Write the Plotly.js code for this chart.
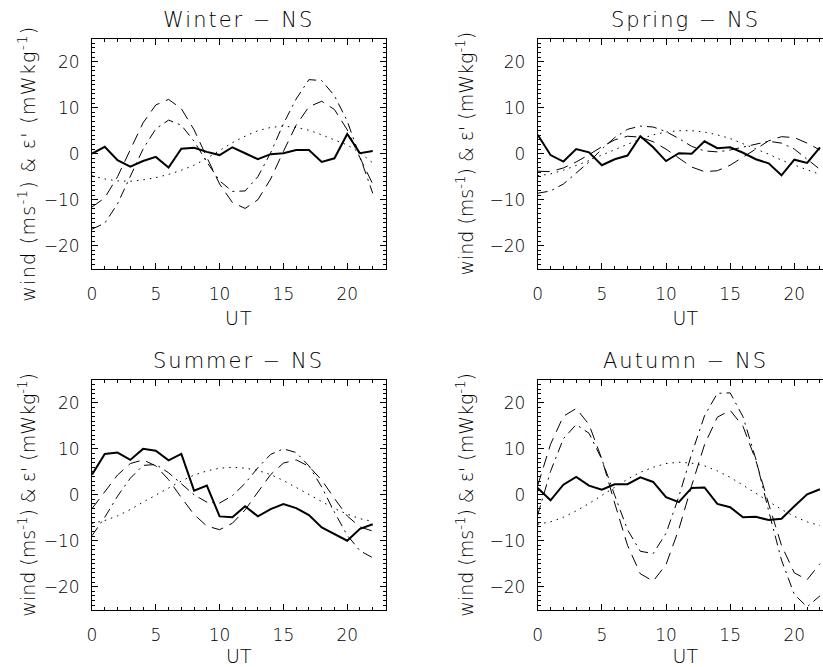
<!DOCTYPE html>
<html>
<head>
<meta charset="utf-8">
<script src="https://cdn.plot.ly/plotly-3.0.1.min.js"></script>
<style>
  html, body { margin: 0; padding: 0; overflow: hidden; background: #fff; }
  #chart { width: 850px; height: 667px; }
  #chart .annotation-text { letter-spacing: 2px; }
  #chart .ytitle { letter-spacing: 1.3px; translate: 0px 10px; }
  #chart .xtitle { letter-spacing: 1px; }
</style>
</head>
<body>
<div id="chart"></div>
<script>
// Universal time (hours)
const hours = [0, 1, 2, 3, 4, 5, 6, 7, 8, 9, 10, 11, 12, 13, 14, 15, 16, 17, 18, 19, 20, 21, 22];

// Panel titles
const panelTitles = ["Winter \u2212 NS", "Spring \u2212 NS", "Summer \u2212 NS", "Autumn \u2212 NS"];

// Winter
const windWinter    = [0.0, 1.5, -1.4, -2.8, -1.6, -0.7, -3.0, 1.1, 1.3, 0.4, -0.3, 1.4, 0.1, -1.2, -0.1, 0.1, 0.8, 0.8, -1.8, -1.0, 4.3, 0.1, 0.6];
const diurnalWinter = [-4.8, -5.5, -5.9, -6.0, -5.7, -5.2, -4.5, -3.6, -2.5, -1.0, 0.7, 2.4, 3.8, 5.0, 5.7, 6.0, 5.7, 5.1, 4.1, 3.0, 1.9, 0.2, -2.0];
const semiWinter    = [-11.6, -9.6, -5.0, 1.0, 6.7, 10.6, 11.8, 9.8, 5.2, -0.8, -6.6, -10.6, -11.9, -10.0, -5.5, 0.5, 6.2, 10.2, 11.4, 9.6, 5.2, -0.9, -6.6];
const totalWinter   = [-16.4, -15.1, -10.9, -5.0, 1.0, 5.4, 7.3, 6.2, 2.7, -1.8, -5.9, -8.2, -8.1, -5.0, 0.2, 6.5, 11.9, 16.1, 15.9, 12.6, 7.1, -0.7, -8.6];

// Spring
const windSpring    = [4.1, -0.3, -1.7, 1.0, 0.3, -2.5, -1.2, -0.4, 3.8, 1.4, -1.6, 0.1, 0.0, 2.7, 1.2, 1.4, 0.2, -1.2, -2.1, -4.7, -1.3, -2.0, 1.4];
const diurnalSpring = [-4.8, -4.4, -3.6, -2.6, -1.5, -0.3, 0.9, 2.1, 3.2, 4.1, 4.7, 5.0, 5.0, 4.7, 4.1, 3.3, 2.2, 1.1, -0.1, -1.4, -2.5, -3.5, -4.5];
const semiSpring    = [-3.8, -3.9, -3.1, -1.8, -0.2, 1.5, 3.0, 3.8, 3.6, 2.6, 1.0, -1.0, -2.9, -3.9, -3.7, -2.5, -0.8, 1.0, 2.8, 3.7, 3.5, 2.3, 0.8];
const totalSpring   = [-8.6, -8.1, -6.6, -4.3, -1.8, 1.0, 3.5, 5.3, 6.0, 5.8, 4.8, 3.3, 1.6, 0.6, 0.4, 0.8, 1.4, 2.1, 2.7, 2.3, 1.0, -1.2, -3.4];

// Summer
const windSummer    = [4.4, 8.9, 9.2, 7.6, 10.0, 9.6, 7.5, 8.9, 0.9, 2.0, -4.7, -4.9, -2.5, -4.7, -3.1, -2.0, -2.9, -4.4, -7.1, -8.6, -10.0, -7.4, -6.4];
const diurnalSummer = [-6.2, -5.6, -4.6, -3.2, -1.6, -0.1, 1.5, 3.0, 4.3, 5.2, 5.8, 6.0, 5.8, 5.3, 4.4, 3.1, 1.6, 0.1, -1.5, -3.0, -4.2, -5.2, -5.8];
const semiSummer    = [-3.0, 0.7, 4.3, 6.8, 7.6, 6.3, 3.3, -0.6, -4.3, -6.8, -7.6, -6.2, -3.3, 0.6, 4.4, 6.9, 7.6, 6.2, 3.2, -0.8, -4.6, -7.0, -7.9];
const totalSummer   = [-8.9, -4.9, -0.3, 3.6, 6.4, 6.6, 4.8, 2.4, 0.0, -1.6, -1.8, -0.2, 2.5, 5.9, 8.8, 10.0, 9.2, 6.3, 1.7, -3.8, -8.8, -12.2, -13.7];

// Autumn
const windAutumn    = [1.5, -1.2, 2.2, 3.9, 2.0, 1.1, 2.3, 2.3, 3.8, 2.8, -0.5, -1.6, 1.5, 1.6, -2.0, -2.7, -4.9, -4.8, -5.5, -5.2, -2.5, 0.1, 1.2];
const diurnalAutumn = [-6.4, -5.9, -4.9, -3.5, -1.9, -0.1, 1.7, 3.4, 4.9, 6.0, 6.8, 7.1, 6.9, 6.3, 5.2, 3.8, 2.1, 0.3, -1.5, -3.2, -4.7, -5.9, -6.7];
const semiAutumn    = [2.0, 11.0, 17.1, 18.8, 15.3, 7.8, -1.8, -11.0, -17.2, -18.8, -15.2, -7.5, 2.0, 10.9, 16.9, 18.4, 14.9, 7.5, -2.0, -11.0, -17.0, -18.5, -15.0];
const totalAutumn   = [-4.4, 5.1, 12.2, 15.3, 13.4, 7.7, -0.1, -7.6, -12.3, -12.8, -8.4, -0.4, 8.9, 17.2, 22.1, 22.2, 17.0, 7.8, -3.5, -14.2, -21.7, -24.4, -22.0];

const xTickVals = [0, 5, 10, 15, 20];
const yTickVals = [-20, -10, 0, 10, 20];
const yTitle = "wind (ms<sup>-1</sup>) & \u03b5' (mWkg<sup>-1</sup>)";
const xTitle = "UT";

const panels = [
  {wind: windWinter, diurnal: diurnalWinter, semi: semiWinter, total: totalWinter},
  {wind: windSpring, diurnal: diurnalSpring, semi: semiSpring, total: totalSpring},
  {wind: windSummer, diurnal: diurnalSummer, semi: semiSummer, total: totalSummer},
  {wind: windAutumn, diurnal: diurnalAutumn, semi: semiAutumn, total: totalAutumn}
];

const W = 850, H = 667;
const colPx = [[92, 385.5], [537.7, 832.8]];
const rowPx = [[38.7, 268.7], [380, 609.6]];

const styles = {
  wind:    {width: 2, dash: 'solid'},
  diurnal: {width: 1, dash: '1.5px,5px'},
  semi:    {width: 1, dash: '12px,7px'},
  total:   {width: 1, dash: '10px,5px,2px,5px'}
};

const FONT = 'DejaVu Sans, sans-serif';
const traces = [];
const layout = {
  width: W, height: H,
  margin: {l: 0, r: 0, t: 0, b: 0},
  paper_bgcolor: '#fff', plot_bgcolor: '#fff',
  showlegend: false,
  font: {family: FONT, size: 17, color: '#000', weight: 200},
  annotations: []
};

panels.forEach((p, i) => {
  const row = Math.floor(i / 2), col = i % 2;
  const n = i + 1;
  const xk = n === 1 ? 'x' : 'x' + n;
  const yk = n === 1 ? 'y' : 'y' + n;
  ['wind', 'diurnal', 'semi', 'total'].forEach(k => {
    traces.push({
      x: hours, y: p[k], xaxis: xk, yaxis: yk,
      type: 'scatter', mode: 'lines',
      line: {color: '#000', width: styles[k].width, dash: styles[k].dash},
      hoverinfo: 'skip'
    });
  });
  const xd = [colPx[col][0] / W, colPx[col][1] / W];
  const yd = [(H - rowPx[row][1]) / H, (H - rowPx[row][0]) / H];
  layout[n === 1 ? 'xaxis' : 'xaxis' + n] = {
    domain: xd, anchor: yk, range: [0, 23],
    tickmode: 'array', tickvals: xTickVals,
    ticks: 'inside', ticklen: 6, tickwidth: 1, tickcolor: '#000',
    minor: {tickmode: 'linear', tick0: 0, dtick: 1, ticks: 'inside', ticklen: 3, tickwidth: 1, tickcolor: '#000', showgrid: false},
    showline: true, linewidth: 1, linecolor: '#000', mirror: 'allticks',
    showgrid: false, zeroline: false,
    tickfont: {family: FONT, size: 17, weight: 200}, ticklabelstandoff: 10,
    title: {text: xTitle, font: {family: FONT, size: 19, weight: 200}, standoff: 8}
  };
  layout[n === 1 ? 'yaxis' : 'yaxis' + n] = {
    domain: yd, anchor: xk, range: [-25, 25],
    tickmode: 'array', tickvals: yTickVals,
    ticks: 'inside', ticklen: 6, tickwidth: 1, tickcolor: '#000',
    minor: {tickmode: 'linear', tick0: 0, dtick: 1, ticks: 'inside', ticklen: 3, tickwidth: 1, tickcolor: '#000', showgrid: false},
    showline: true, linewidth: 1, linecolor: '#000', mirror: 'allticks',
    showgrid: false, zeroline: false,
    tickfont: {family: FONT, size: 17, weight: 200}, ticklabelstandoff: 8,
    title: {text: yTitle, font: {family: FONT, size: 19, weight: 200}, standoff: col === 0 ? 3 : 10}
  };
  layout.annotations.push({
    text: panelTitles[i], showarrow: false,
    xref: 'paper', yref: 'paper',
    x: (xd[0] + xd[1]) / 2, y: (H - (row === 0 ? 20 : 361)) / H,
    xanchor: 'center', yanchor: 'middle',
    font: {family: FONT, size: 21, color: '#000', weight: 200}
  });
});

Plotly.newPlot('chart', traces, layout, {staticPlot: true, displayModeBar: false});
</script>
</body>
</html>
